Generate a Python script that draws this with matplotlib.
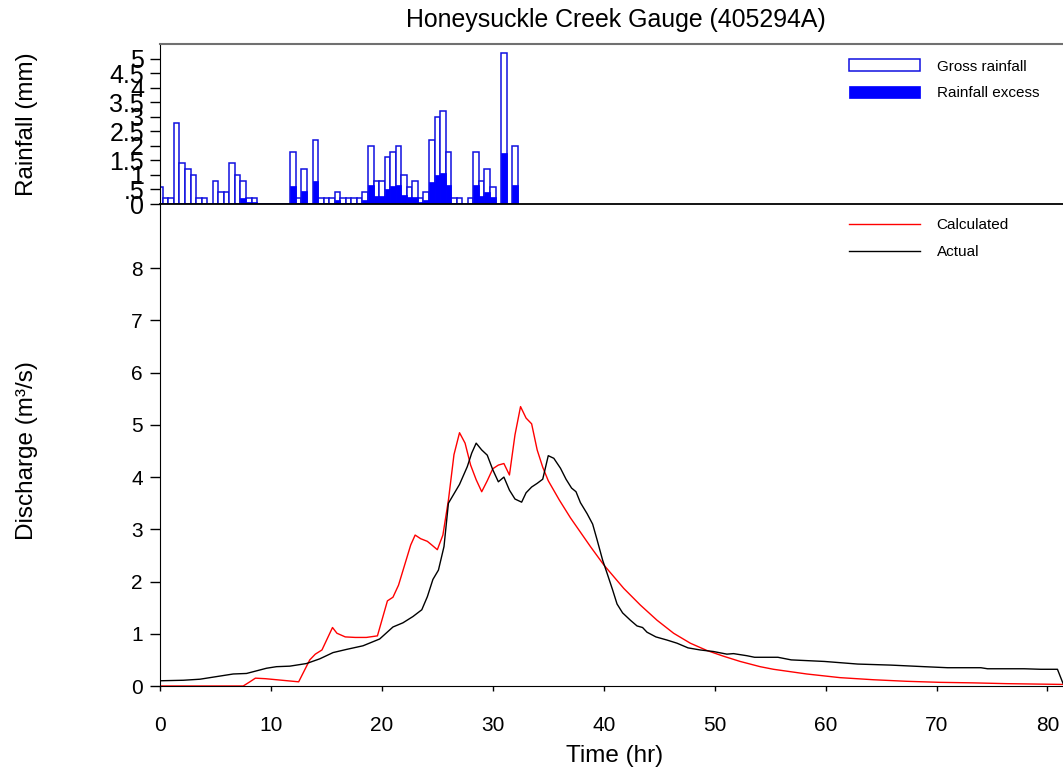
import numpy as np
import matplotlib
matplotlib.use('Agg')
import matplotlib.pyplot as plt

plt.rcParams['font.family'] = ['Liberation Sans', 'DejaVu Sans']

# rainfall, half-hour blocks starting at t = 0
rain_time = np.arange(0, 32.5, 0.5)
gross_rain = [0.6, 0.2, 0.2, 2.8, 1.4, 1.2, 1.0, 0.2, 0.2, 0.0,
              0.8, 0.4, 0.4, 1.4, 1.0, 0.8, 0.2, 0.2, 0.0, 0.0,
              0.0, 0.0, 0.0, 0.0, 1.8, 0.2, 1.2, 0.0, 2.2, 0.2,
              0.2, 0.2, 0.4, 0.2, 0.2, 0.2, 0.2, 0.4, 2.0, 0.8,
              0.8, 1.6, 1.8, 2.0, 1.0, 0.6, 0.8, 0.2, 0.4, 2.2,
              3.0, 3.2, 1.8, 0.2, 0.2, 0.0, 0.2, 1.8, 0.8, 1.2,
              0.6, 0.0, 5.2, 0.0, 2.0]
excess_rain = [0, 0, 0, 0, 0, 0, 0, 0, 0, 0,
               0, 0, 0, 0, 0, 0.22, 0.06, 0.06, 0, 0,
               0, 0, 0, 0, 0.63, 0.05, 0.43, 0, 0.78, 0.05,
               0.05, 0.05, 0.15, 0.05, 0.05, 0.05, 0.05, 0.15, 0.65, 0.26,
               0.26, 0.52, 0.63, 0.66, 0.32, 0.23, 0.25, 0.06, 0.15, 0.76,
               1.0, 1.07, 0.64, 0.05, 0.05, 0, 0.05, 0.64, 0.26, 0.42,
               0.23, 0, 1.76, 0, 0.66]
rain_ticks = [0, 0.5, 1, 1.5, 2, 2.5, 3, 3.5, 4, 4.5, 5]
rain_tick_labels = ['0', '.5', '1', '1.5', '2', '2.5', '3', '3.5', '4', '4.5', '5']

# observed hydrograph
actual_time = [0, 2.1, 3.6, 4.5, 6.6, 7.8, 9.6, 10.5, 11.7, 13.2, 14.4, 15.6, 16.8, 18.3,
               19.8, 21.0, 21.9, 22.8, 23.6, 24.1, 24.6, 25.1, 25.6, 26.0, 27.0, 27.7,
               28.1, 28.5, 29.0, 29.5, 30.0, 30.5, 31.0, 31.5, 32.0, 32.6, 33.0, 33.5,
               34.0, 34.5, 35.0, 35.5, 36.1, 36.6, 37.1, 37.5, 37.9, 38.5, 39.0, 39.4,
               39.9, 40.3, 40.8, 41.2, 41.7, 42.4, 43.0, 43.5, 43.9, 44.7, 45.7, 46.6,
               47.6, 48.7, 49.9, 51.1, 51.7, 52.9, 53.6, 55.7, 56.9, 59.9, 62.9, 65.9,
               68.9, 71.0, 74.0, 74.6, 77.9, 79.4, 80.9, 81.4]
actual_flow = [0.10, 0.11, 0.13, 0.16, 0.23, 0.24, 0.34, 0.37, 0.38, 0.43, 0.52, 0.64, 0.70, 0.77,
               0.90, 1.13, 1.21, 1.33, 1.46, 1.71, 2.04, 2.22, 2.67, 3.50, 3.86, 4.20,
               4.46, 4.65, 4.52, 4.42, 4.14, 3.91, 4.00, 3.75, 3.58, 3.52, 3.70, 3.81,
               3.88, 3.96, 4.41, 4.36, 4.17, 3.96, 3.79, 3.72, 3.51, 3.30, 3.10, 2.80,
               2.41, 2.16, 1.84, 1.57, 1.40, 1.26, 1.15, 1.12, 1.03, 0.94, 0.88, 0.82,
               0.73, 0.69, 0.66, 0.61, 0.62, 0.58, 0.55, 0.55, 0.50, 0.47, 0.42, 0.40,
               0.37, 0.35, 0.35, 0.33, 0.33, 0.32, 0.32, 0.05]

# modelled hydrograph
calc_time = [0, 7.5, 8.1, 8.6, 9.5, 10.5, 11.5, 12.5, 13.5, 14.0, 14.6, 15.55, 15.95,
             16.7, 17.6, 18.6, 19.6, 20.5, 21.0, 21.5, 22.1, 22.6, 23.0, 23.5, 24.1,
             24.5, 25.0, 25.5, 26.0, 26.5, 27.0, 27.5, 28.0, 28.5, 29.0, 29.5, 30.0,
             30.5, 31.0, 31.5, 32.0, 32.5, 33.0, 33.5, 34.0, 34.5, 35.0, 36.0, 37.0,
             38.8, 40.0, 41.8, 43.3, 44.8, 46.3, 47.8, 49.3, 50.8, 52.3, 54.1, 55.3,
             58.3, 61.3, 64.3, 67.3, 70.3, 73.3, 76.3, 81.4]
calc_flow = [0, 0, 0.08, 0.15, 0.14, 0.12, 0.10, 0.08, 0.50, 0.61, 0.69, 1.12, 1.01,
             0.94, 0.93, 0.93, 0.96, 1.63, 1.70, 1.93, 2.35, 2.70, 2.89, 2.82, 2.77,
             2.70, 2.61, 2.89, 3.56, 4.43, 4.85, 4.65, 4.23, 3.95, 3.72, 3.93, 4.16,
             4.23, 4.26, 4.04, 4.81, 5.35, 5.13, 5.02, 4.52, 4.19, 3.93, 3.56, 3.22,
             2.67, 2.32, 1.87, 1.55, 1.26, 1.01, 0.82, 0.68, 0.57, 0.47, 0.37, 0.32,
             0.23, 0.16, 0.12, 0.09, 0.07, 0.06, 0.045, 0.03]

W, H = 1063, 774
fig = plt.figure(figsize=(W / 100, H / 100), dpi=100)
ax_r = fig.add_axes([160 / W, (H - 204) / H, 903 / W, 160 / H])
ax_q = fig.add_axes([160 / W, (H - 686) / H, 903 / W, 481 / H])

# rainfall panel
ax_r.bar(rain_time, gross_rain, width=0.5, facecolor='white', edgecolor='#1010e0',
         linewidth=1.1, label='Gross rainfall')
ax_r.bar(rain_time, excess_rain, width=0.5, facecolor='blue', edgecolor='blue',
         linewidth=0.5, label='Rainfall excess')
ax_r.set_xlim(0, 81.4)
ax_r.set_ylim(0, 5.5)
ax_r.set_yticks(rain_ticks)
ax_r.set_yticklabels(rain_tick_labels)
ax_r.tick_params(axis='y', direction='out', length=7.5, width=1, labelsize=18, pad=4)
ax_r.tick_params(axis='x', bottom=False, labelbottom=False)
ax_r.spines['right'].set_visible(False)
ax_r.spines['top'].set_color('#707070')
ax_r.spines['top'].set_linewidth(1.5)
ax_r.spines['bottom'].set_linewidth(1.3)
ax_r.set_ylabel('Rainfall (mm)', fontsize=17.5, va='center')
ax_r.yaxis.set_label_coords(-0.147, 0.5)
ax_r.legend(loc='upper left', bbox_to_anchor=(0.763, 0.905), frameon=False, fontsize=11,
            handlelength=4.64, handleheight=0.85, handletextpad=1.1, labelspacing=0.8,
            borderaxespad=0, borderpad=0)

# discharge panel
ax_q.plot(calc_time, calc_flow, color='red', linewidth=1.0, label='Calculated')
ax_q.plot(actual_time, actual_flow, color='black', linewidth=1.0, label='Actual')
ax_q.set_xlim(0, 81.4)
ax_q.set_ylim(0, 9.21)
ax_q.set_xticks(range(0, 90, 10))
ax_q.set_yticks(range(0, 9))
ax_q.tick_params(axis='y', direction='out', length=7.5, width=1, labelsize=15, pad=5)
ax_q.tick_params(axis='x', direction='out', length=3.6, width=1, labelsize=15, pad=18)
ax_q.spines['top'].set_visible(False)
ax_q.spines['right'].set_visible(False)
ax_q.set_ylabel('Discharge (m³/s)', fontsize=17.5, va='center')
ax_q.yaxis.set_label_coords(-0.147, 0.49)
ax_q.set_xlabel('Time (hr)', fontsize=17.5, va='center')
ax_q.xaxis.set_label_coords(0.503, -0.145)
ax_q.legend(loc='upper left', bbox_to_anchor=(0.763, 0.972), frameon=False, fontsize=11,
            handlelength=4.64, handletextpad=1.1, labelspacing=0.85,
            borderaxespad=0, borderpad=0)

fig.text(616 / W, 1 - 20 / H, 'Honeysuckle Creek Gauge (405294A)', fontsize=17.9,
         ha='center', va='center')

plt.savefig('out.png', dpi=100)
